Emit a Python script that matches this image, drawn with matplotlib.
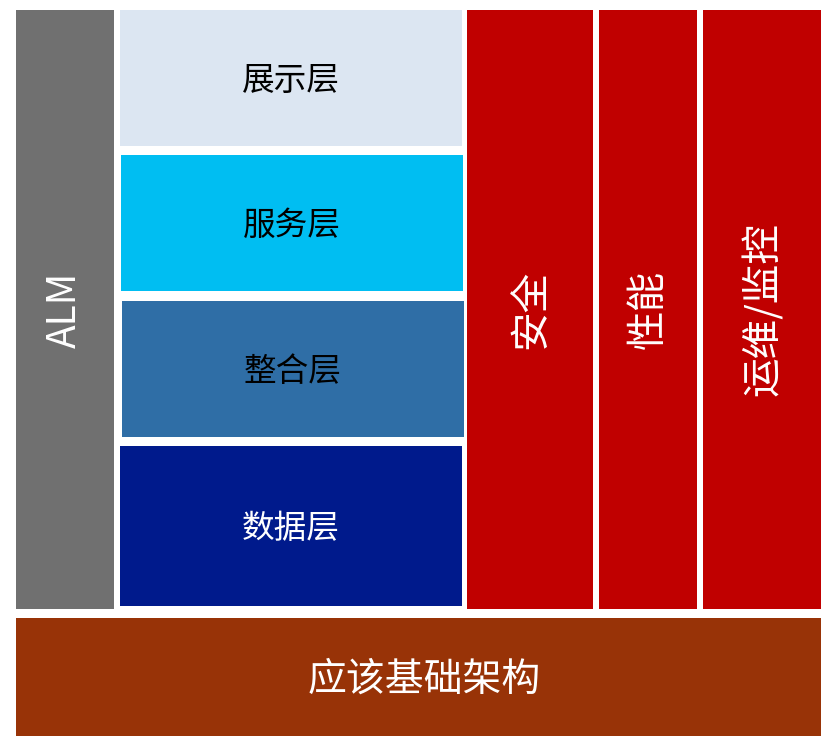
import matplotlib.pyplot as plt
from matplotlib.patches import Rectangle

plt.rcParams['font.family'] = ['Noto Sans CJK SC', 'DejaVu Sans']

# labels
layer_labels = ["展示层", "服务层", "整合层", "数据层"]
side_labels = ["安全", "性能", "运维/监控"]
left_label = "ALM"
base_label = "应该基础架构"

# layout (pixel units, y down)
layer_boxes = [(120, 10, 342, 136), (121, 155, 342, 136), (122, 301, 342, 136), (120, 446, 342, 160)]
layer_colors = ["#DCE6F2", "#00BEF2", "#2F6EA6", "#001A8C"]
layer_text = ["black", "black", "black", "white"]
side_boxes = [(467, 10, 126, 599), (599, 10, 98, 599), (703, 10, 118, 599)]
left_box = (16, 10, 98, 599)
base_box = (16, 618, 805, 118)

fig = plt.figure(figsize=(8.21, 7.36), dpi=100)
ax = fig.add_axes([0, 0, 1, 1])
ax.set_xlim(0, 821)
ax.set_ylim(736, 0)
ax.axis("off")


def box(rect, color, label, tcolor, size, rot=0, dx=0, dy=0):
    x, y, w, h = rect
    ax.add_patch(Rectangle((x, y), w, h, facecolor=color, edgecolor="none"))
    ax.text(x + w / 2 + dx, y + h / 2 + dy, label, color=tcolor, fontsize=size,
            rotation=rot, ha="center", va="center")


box(left_box, "#707070", left_label, "white", 28, rot=90)
for r, c, lab, tc in zip(layer_boxes, layer_colors, layer_labels, layer_text):
    box(r, c, lab, tc, 23.5, dy=3)
for r, lab in zip(side_boxes, side_labels):
    box(r, "#C00000", lab, "white", 28.5, rot=90, dx=1)
box(base_box, "#983307", base_label, "white", 28, dx=6, dy=3)

fig.savefig("out.png", dpi=100)
